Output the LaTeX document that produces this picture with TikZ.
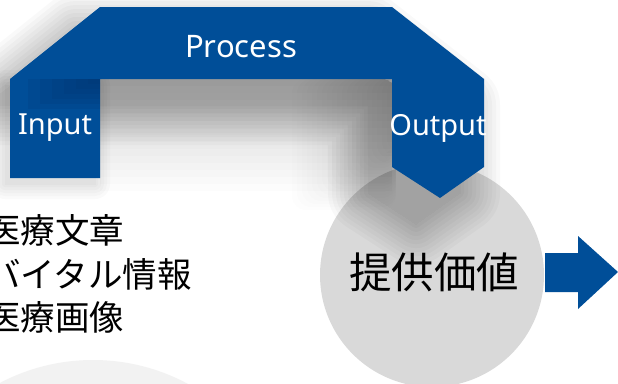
\documentclass[tikz,border=0pt]{standalone}
\usepackage{fontspec}
\setmainfont{Noto Sans}
\newfontfamily\jpfont{Noto Sans CJK JP}
\definecolor{bandblue}{RGB}{0,78,152}
\definecolor{banddark}{RGB}{0,52,110}
\definecolor{circgray}{RGB}{217,217,217}
\definecolor{softgray}{RGB}{242,242,242}
\tikzset{
  bandlabel/.style={text=white, inner sep=0pt, font=\fontsize{29}{34}\selectfont},
  jptext/.style={text=black, inner sep=0pt, align=left},
  shadowlayer/.style={black, line join=round}
}
\begin{document}
\begin{tikzpicture}[x=1pt,y=-1pt]
\useasboundingbox (0,0) rectangle (618,383);
\fill[white] (0,0) rectangle (618,383);
% faint lower circle
\fill[softgray] (93,560) circle (200pt);
% value circle
\fill[circgray] (432,275) circle (112pt);
% block arrow
\fill[bandblue] (545,253) -- (578,253) -- (578,236) -- (618,272) -- (578,309) -- (578,292) -- (545,292) -- cycle;
% soft gradient inside the U (stacked layers)
\foreach \i in {1,...,16} {
  \fill[black, opacity=0.01] (100,79) rectangle (392,{79+7*\i});
}
% soft gradient left of the output column
\foreach \i in {1,...,20} {
  \begin{scope}[transparency group, opacity=0.007]
    \path (-100,-100) rectangle (640,420);
    \fill[black, rounded corners=14pt] ({392-5*\i},79) rectangle (396,{150+3*\i});
  \end{scope}
}
% blurred shadow of the input box
\foreach \w in {0,6,...,30} {
  \begin{scope}[transparency group, opacity=0.02]
    \path (-100,-100) rectangle (640,420);
    \filldraw[shadowlayer, line width=\w pt, xshift=-5pt, yshift=-6pt]
      (10,79) rectangle (100,178);
  \end{scope}
}
% blurred shadow of the band (stacked layers)
\foreach \w in {0,8,...,80} {
  \begin{scope}[transparency group, opacity=0.022]
    \path (-100,-100) rectangle (640,420);
    \filldraw[shadowlayer, line width=\w pt, xshift=-24pt, yshift=-26pt]
      (10,79) -- (100,7) -- (392,7) -- (484,79) -- (484,167) -- (440,198) -- (392,167) -- (392,79)
      -- (100,79) -- cycle;
  \end{scope}
}
% banner
\fill[bandblue]
  (10,79) -- (100,7) -- (392,7) -- (484,79) -- (484,167) -- (440,198) -- (392,167) -- (392,79)
  -- (100,79) -- (100,178) -- (10,178) -- cycle;
\foreach \i in {1,...,6} {
  \fill[banddark, opacity=0.16] ({100-12*\i},79) rectangle (100,{79+5*\i});
}
% texts
\node[bandlabel, font=\fontsize{31}{36}\selectfont] (process) at (241,47) {Process};
\node[bandlabel] (input) at (55,128) {Input};
\node[bandlabel] (output) at (438,128) {Output};
\node[jptext, anchor=west, font=\jpfont\fontsize{34.5}{43.5}\selectfont] (list) at (-14,274) {医療文章\\バイタル情報\\医療画像};
\node[jptext, font=\jpfont\fontsize{42.5}{48}\selectfont] (value) at (434,272) {提供価値};
\end{tikzpicture}
\end{document}
